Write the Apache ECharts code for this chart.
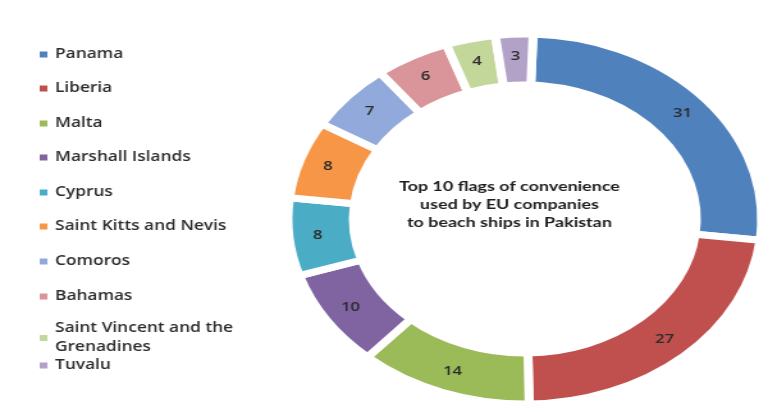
<!DOCTYPE html>
<html>
<head>
<meta charset="utf-8">
<script src="https://cdn.jsdelivr.net/npm/echarts@6/dist/echarts.min.js"></script>
<style>
  html, body { margin: 0; padding: 0; background: #fff; }
  #wrap { width: 779px; height: 412px; overflow: hidden; }
  /* the source picture is stretched sideways, so the chart is drawn narrow and scaled */
  #container { width: 609px; height: 412px; transform: scaleX(1.28); transform-origin: 0 0; }
</style>
</head>
<body>
<div id="wrap"><div id="container"></div></div>
<script>
var countries = ['Panama', 'Liberia', 'Malta', 'Marshall Islands', 'Cyprus',
  'Saint Kitts and Nevis', 'Comoros', 'Bahamas', 'Saint Vincent and the Grenadines', 'Tuvalu'];
var ships = [31, 27, 14, 10, 8, 8, 7, 6, 4, 3];
var colors = ['#4F81BD', '#C0504D', '#9BBB59', '#8064A2', '#4BACC6',
  '#F79646', '#92AADB', '#D9959A', '#C4D79B', '#B3A2C7'];
var centerTitle = 'Top 10 flags of convenience\nused by EU companies\nto beach ships in Pakistan';

var dom = document.getElementById('container');
var chart = echarts.init(dom);

var pieData = [];
for (var i = 0; i < countries.length; i++) {
  pieData.push({ name: countries[i], value: ships[i], itemStyle: { color: colors[i] } });
}

// one legend per row so the wrapped entry doesn't push Tuvalu down
var legends = [];
var rowTop = [45, 79, 114, 148, 183, 217, 252, 287, 319, 356];
for (var j = 0; j < countries.length; j++) {
  legends.push({
    data: [countries[j]],
    left: 29,
    top: rowTop[j],
    padding: 0,
    itemWidth: 8,
    itemHeight: 8,
    itemGap: 5,
    icon: 'rect',
    formatter: function (n) {
      return n === 'Saint Vincent and the Grenadines' ? 'Saint Vincent and the\nGrenadines' : n;
    },
    textStyle: { fontFamily: 'Open Sans', fontSize: 13.5, fontWeight: 600, color: '#2b2b2b', lineHeight: 19 },
    selectedMode: false
  });
}

chart.setOption({
  animation: false,
  color: colors,
  legend: legends,
  graphic: [{
    type: 'text',
    x: 398,
    y: 177,
    z: 10,
    style: {
      text: centerTitle,
      textAlign: 'center',
      fontFamily: 'Lato',
      fontWeight: 'bold',
      fontSize: 14,
      lineHeight: 18,
      fill: '#1e1e1e'
    }
  }],
  series: [{
    type: 'pie',
    center: [410, 219],
    radius: [134, 185],
    startAngle: 88,
    clockwise: true,
    avoidLabelOverlap: false,
    itemStyle: { borderColor: '#fff', borderWidth: 7 },
    label: {
      show: true,
      position: 'inside',
      formatter: '{c}',
      fontFamily: 'Open Sans',
      fontSize: 13,
      fontWeight: 600,
      color: '#2a2a2a'
    },
    labelLine: { show: false },
    emphasis: { disabled: true },
    data: pieData
  }]
});
</script>
</body>
</html>
